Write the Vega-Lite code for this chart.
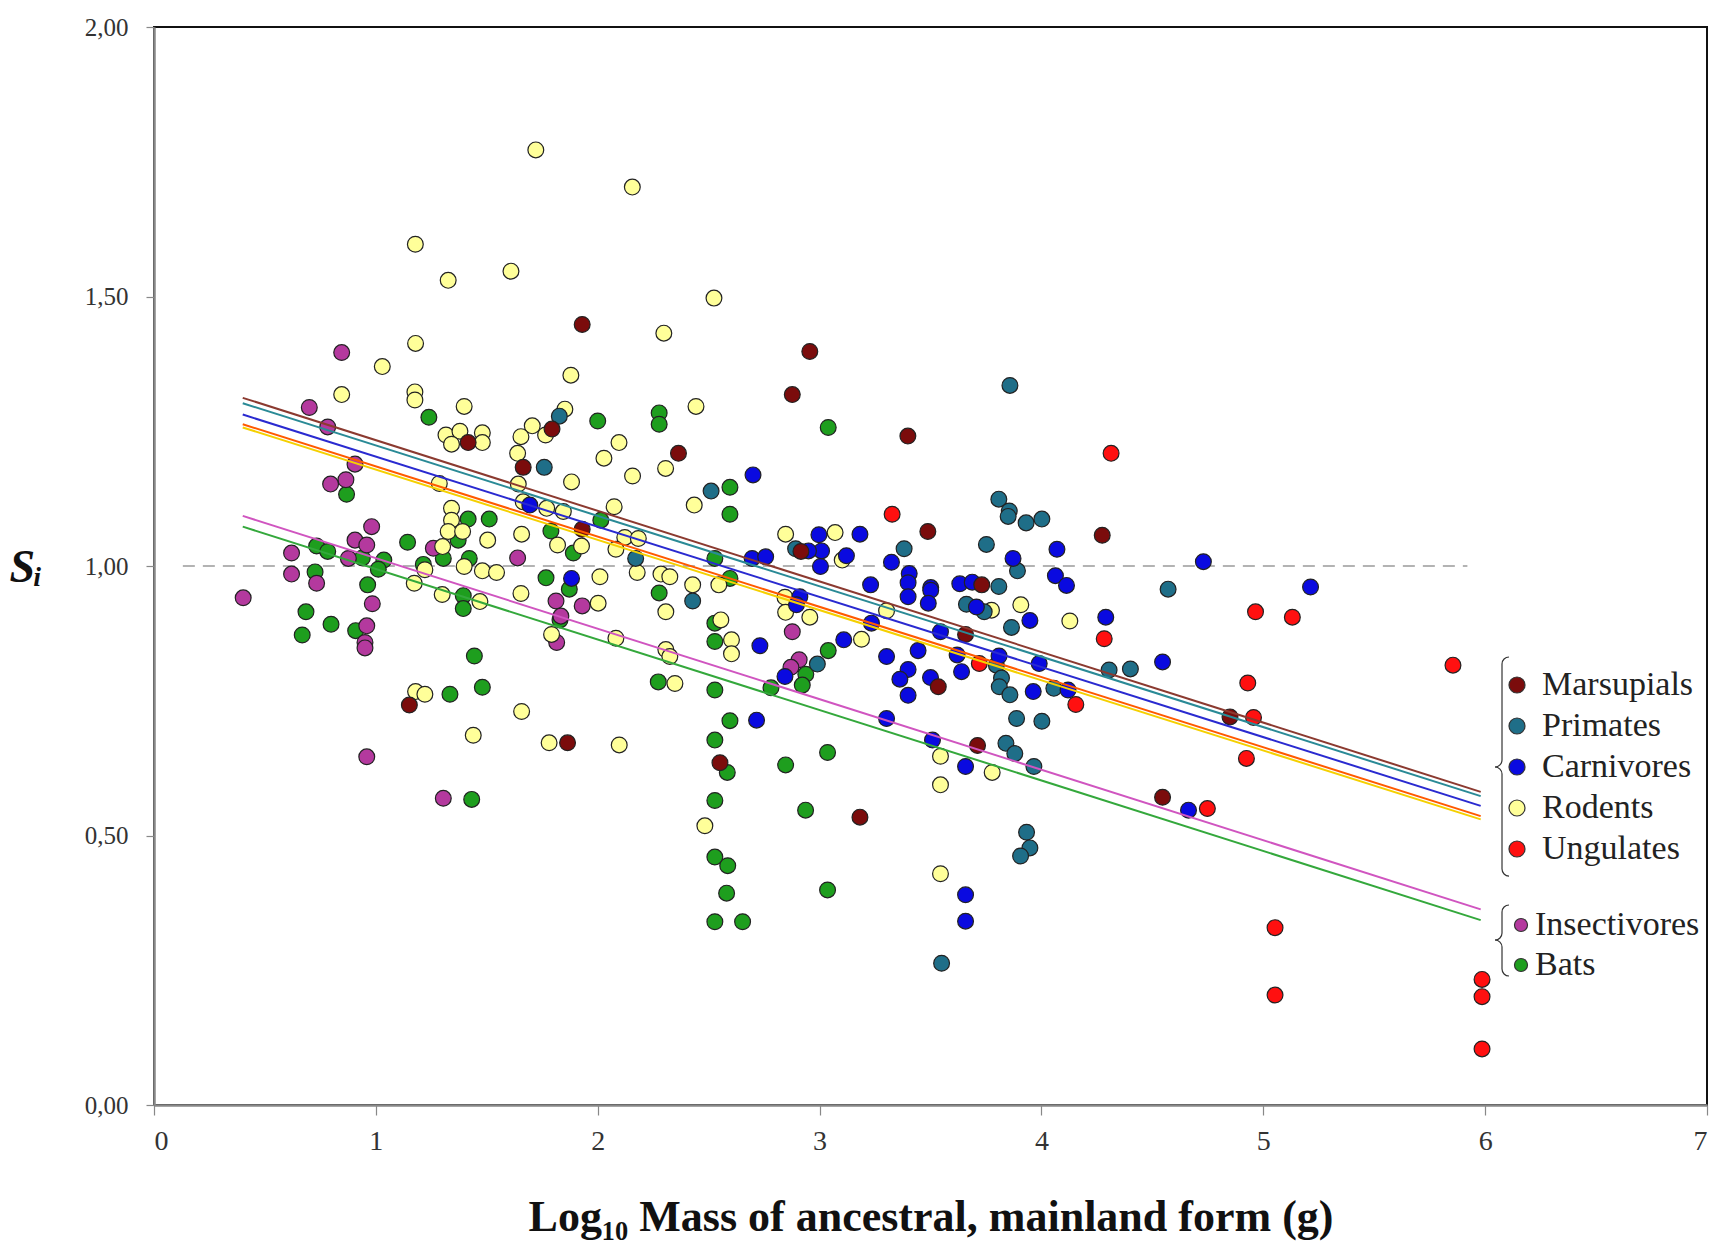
{
  "$schema": "https://vega.github.io/schema/vega-lite/v6.json",
  "width": 1553,
  "height": 1078,
  "autosize": {"type": "none"},
  "padding": {"left": 154, "top": 27, "right": 22, "bottom": 148},
  "background": "white",
  "config": {"view": {"stroke": "#111", "strokeWidth": 2}, "font": "Liberation Serif"},
  "datasets": {
    "lines": [
      {"grp": "Rodents", "mass": 0.4, "si": 1.257}, {"grp": "Rodents", "mass": 5.98, "si": 0.530},
      {"grp": "Ungulates", "mass": 0.4, "si": 1.263}, {"grp": "Ungulates", "mass": 5.98, "si": 0.536},
      {"grp": "Carnivores", "mass": 0.4, "si": 1.281}, {"grp": "Carnivores", "mass": 5.98, "si": 0.555},
      {"grp": "Primates", "mass": 0.4, "si": 1.302}, {"grp": "Primates", "mass": 5.98, "si": 0.573},
      {"grp": "Marsupials", "mass": 0.4, "si": 1.312}, {"grp": "Marsupials", "mass": 5.98, "si": 0.581},
      {"grp": "Insectivores", "mass": 0.4, "si": 1.093}, {"grp": "Insectivores", "mass": 5.98, "si": 0.363},
      {"grp": "Bats", "mass": 0.4, "si": 1.073}, {"grp": "Bats", "mass": 5.98, "si": 0.343}
    ],
    "points": [
      {"taxon": "Bats", "mass": 1.239, "si": 1.276}, {"taxon": "Bats", "mass": 2.0, "si": 1.269}, {"taxon": "Bats", "mass": 0.868, "si": 1.133}, {"taxon": "Bats", "mass": 0.733, "si": 1.037}, {"taxon": "Bats", "mass": 0.783, "si": 1.027}, {"taxon": "Bats", "mass": 0.939, "si": 1.015}, {"taxon": "Bats", "mass": 1.036, "si": 1.011}, {"taxon": "Bats", "mass": 1.011, "si": 0.994}, {"taxon": "Bats", "mass": 1.143, "si": 1.044}, {"taxon": "Bats", "mass": 0.726, "si": 0.989}, {"taxon": "Bats", "mass": 0.963, "si": 0.965}, {"taxon": "Bats", "mass": 1.214, "si": 1.003}, {"taxon": "Bats", "mass": 1.304, "si": 1.014}, {"taxon": "Bats", "mass": 1.416, "si": 1.087}, {"taxon": "Bats", "mass": 1.511, "si": 1.087}, {"taxon": "Bats", "mass": 1.371, "si": 1.048}, {"taxon": "Bats", "mass": 1.421, "si": 1.014}, {"taxon": "Bats", "mass": 1.394, "si": 0.945}, {"taxon": "Bats", "mass": 1.394, "si": 0.921}, {"taxon": "Bats", "mass": 0.685, "si": 0.915}, {"taxon": "Bats", "mass": 0.798, "si": 0.892}, {"taxon": "Bats", "mass": 0.668, "si": 0.872}, {"taxon": "Bats", "mass": 0.909, "si": 0.88}, {"taxon": "Bats", "mass": 1.444, "si": 0.833}, {"taxon": "Bats", "mass": 1.48, "si": 0.775}, {"taxon": "Bats", "mass": 1.334, "si": 0.762}, {"taxon": "Bats", "mass": 1.789, "si": 1.065}, {"taxon": "Bats", "mass": 1.767, "si": 0.978}, {"taxon": "Bats", "mass": 1.89, "si": 1.024}, {"taxon": "Bats", "mass": 1.872, "si": 0.957}, {"taxon": "Bats", "mass": 1.83, "si": 0.9}, {"taxon": "Bats", "mass": 2.014, "si": 1.085}, {"taxon": "Bats", "mass": 1.432, "si": 0.567}, {"taxon": "Bats", "mass": 2.277, "si": 1.284}, {"taxon": "Bats", "mass": 2.277, "si": 1.263}, {"taxon": "Bats", "mass": 3.039, "si": 1.257}, {"taxon": "Bats", "mass": 2.596, "si": 1.146}, {"taxon": "Bats", "mass": 2.596, "si": 1.096}, {"taxon": "Bats", "mass": 2.528, "si": 1.014}, {"taxon": "Bats", "mass": 2.596, "si": 0.977}, {"taxon": "Bats", "mass": 2.277, "si": 0.95}, {"taxon": "Bats", "mass": 2.528, "si": 0.894}, {"taxon": "Bats", "mass": 2.528, "si": 0.86}, {"taxon": "Bats", "mass": 2.273, "si": 0.785}, {"taxon": "Bats", "mass": 2.528, "si": 0.77}, {"taxon": "Bats", "mass": 2.596, "si": 0.713}, {"taxon": "Bats", "mass": 2.528, "si": 0.677}, {"taxon": "Bats", "mass": 2.584, "si": 0.617}, {"taxon": "Bats", "mass": 2.528, "si": 0.565}, {"taxon": "Bats", "mass": 2.528, "si": 0.46}, {"taxon": "Bats", "mass": 2.586, "si": 0.444}, {"taxon": "Bats", "mass": 2.581, "si": 0.393}, {"taxon": "Bats", "mass": 2.528, "si": 0.34}, {"taxon": "Bats", "mass": 2.653, "si": 0.34}, {"taxon": "Bats", "mass": 2.781, "si": 0.774}, {"taxon": "Bats", "mass": 2.938, "si": 0.799}, {"taxon": "Bats", "mass": 2.922, "si": 0.779}, {"taxon": "Bats", "mass": 3.039, "si": 0.843}, {"taxon": "Bats", "mass": 2.847, "si": 0.631}, {"taxon": "Bats", "mass": 3.036, "si": 0.654}, {"taxon": "Bats", "mass": 2.937, "si": 0.547}, {"taxon": "Bats", "mass": 3.036, "si": 0.399},
      {"taxon": "Insectivores", "mass": 0.846, "si": 1.396}, {"taxon": "Insectivores", "mass": 0.70, "si": 1.294}, {"taxon": "Insectivores", "mass": 0.783, "si": 1.258}, {"taxon": "Insectivores", "mass": 0.906, "si": 1.189}, {"taxon": "Insectivores", "mass": 0.865, "si": 1.16}, {"taxon": "Insectivores", "mass": 0.796, "si": 1.152}, {"taxon": "Insectivores", "mass": 0.981, "si": 1.073}, {"taxon": "Insectivores", "mass": 0.906, "si": 1.048}, {"taxon": "Insectivores", "mass": 0.959, "si": 1.039}, {"taxon": "Insectivores", "mass": 0.62, "si": 1.024}, {"taxon": "Insectivores", "mass": 0.876, "si": 1.014}, {"taxon": "Insectivores", "mass": 0.62, "si": 0.985}, {"taxon": "Insectivores", "mass": 0.733, "si": 0.968}, {"taxon": "Insectivores", "mass": 0.984, "si": 0.93}, {"taxon": "Insectivores", "mass": 0.402, "si": 0.941}, {"taxon": "Insectivores", "mass": 0.959, "si": 0.889}, {"taxon": "Insectivores", "mass": 0.951, "si": 0.858}, {"taxon": "Insectivores", "mass": 0.951, "si": 0.848}, {"taxon": "Insectivores", "mass": 1.259, "si": 1.033}, {"taxon": "Insectivores", "mass": 1.639, "si": 1.015}, {"taxon": "Insectivores", "mass": 1.812, "si": 0.935}, {"taxon": "Insectivores", "mass": 1.834, "si": 0.907}, {"taxon": "Insectivores", "mass": 1.815, "si": 0.858}, {"taxon": "Insectivores", "mass": 1.93, "si": 0.926}, {"taxon": "Insectivores", "mass": 0.959, "si": 0.646}, {"taxon": "Insectivores", "mass": 1.304, "si": 0.569}, {"taxon": "Insectivores", "mass": 2.877, "si": 0.878}, {"taxon": "Insectivores", "mass": 2.908, "si": 0.826}, {"taxon": "Insectivores", "mass": 2.871, "si": 0.812},
      {"taxon": "Rodents", "mass": 1.721, "si": 1.772}, {"taxon": "Rodents", "mass": 2.156, "si": 1.703}, {"taxon": "Rodents", "mass": 1.178, "si": 1.597}, {"taxon": "Rodents", "mass": 1.326, "si": 1.53}, {"taxon": "Rodents", "mass": 1.609, "si": 1.547}, {"taxon": "Rodents", "mass": 2.524, "si": 1.497}, {"taxon": "Rodents", "mass": 2.298, "si": 1.432}, {"taxon": "Rodents", "mass": 2.443, "si": 1.296}, {"taxon": "Rodents", "mass": 2.096, "si": 1.229}, {"taxon": "Rodents", "mass": 2.028, "si": 1.2}, {"taxon": "Rodents", "mass": 2.306, "si": 1.181}, {"taxon": "Rodents", "mass": 2.157, "si": 1.167}, {"taxon": "Rodents", "mass": 2.435, "si": 1.113}, {"taxon": "Rodents", "mass": 2.074, "si": 1.11}, {"taxon": "Rodents", "mass": 2.847, "si": 1.059}, {"taxon": "Rodents", "mass": 3.07, "si": 1.062}, {"taxon": "Rodents", "mass": 3.102, "si": 1.011}, {"taxon": "Rodents", "mass": 2.122, "si": 1.053}, {"taxon": "Rodents", "mass": 2.183, "si": 1.051}, {"taxon": "Rodents", "mass": 2.082, "si": 1.031}, {"taxon": "Rodents", "mass": 2.178, "si": 0.988}, {"taxon": "Rodents", "mass": 2.285, "si": 0.985}, {"taxon": "Rodents", "mass": 2.325, "si": 0.98}, {"taxon": "Rodents", "mass": 2.01, "si": 0.98}, {"taxon": "Rodents", "mass": 2.428, "si": 0.965}, {"taxon": "Rodents", "mass": 2.546, "si": 0.965},
      {"taxon": "Rodents", "mass": 1.179, "si": 1.413}, {"taxon": "Rodents", "mass": 1.029, "si": 1.37}, {"taxon": "Rodents", "mass": 0.846, "si": 1.318}, {"taxon": "Rodents", "mass": 1.176, "si": 1.323}, {"taxon": "Rodents", "mass": 1.176, "si": 1.308}, {"taxon": "Rodents", "mass": 1.398, "si": 1.296}, {"taxon": "Rodents", "mass": 1.879, "si": 1.354}, {"taxon": "Rodents", "mass": 1.852, "si": 1.291}, {"taxon": "Rodents", "mass": 1.316, "si": 1.243}, {"taxon": "Rodents", "mass": 1.379, "si": 1.25}, {"taxon": "Rodents", "mass": 1.48, "si": 1.247}, {"taxon": "Rodents", "mass": 1.341, "si": 1.226}, {"taxon": "Rodents", "mass": 1.48, "si": 1.229}, {"taxon": "Rodents", "mass": 1.705, "si": 1.26}, {"taxon": "Rodents", "mass": 1.654, "si": 1.24}, {"taxon": "Rodents", "mass": 1.765, "si": 1.243}, {"taxon": "Rodents", "mass": 1.639, "si": 1.209}, {"taxon": "Rodents", "mass": 1.882, "si": 1.156}, {"taxon": "Rodents", "mass": 1.286, "si": 1.153}, {"taxon": "Rodents", "mass": 1.642, "si": 1.152}, {"taxon": "Rodents", "mass": 1.664, "si": 1.119}, {"taxon": "Rodents", "mass": 1.77, "si": 1.107}, {"taxon": "Rodents", "mass": 1.845, "si": 1.101}, {"taxon": "Rodents", "mass": 1.341, "si": 1.107}, {"taxon": "Rodents", "mass": 1.341, "si": 1.085}, {"taxon": "Rodents", "mass": 1.326, "si": 1.064}, {"taxon": "Rodents", "mass": 1.391, "si": 1.064}, {"taxon": "Rodents", "mass": 1.504, "si": 1.048}, {"taxon": "Rodents", "mass": 1.657, "si": 1.059}, {"taxon": "Rodents", "mass": 1.819, "si": 1.039}, {"taxon": "Rodents", "mass": 1.927, "si": 1.037}, {"taxon": "Rodents", "mass": 1.301, "si": 1.036}, {"taxon": "Rodents", "mass": 1.398, "si": 0.999}, {"taxon": "Rodents", "mass": 1.48, "si": 0.991}, {"taxon": "Rodents", "mass": 1.544, "si": 0.988}, {"taxon": "Rodents", "mass": 1.221, "si": 0.993}, {"taxon": "Rodents", "mass": 1.173, "si": 0.968}, {"taxon": "Rodents", "mass": 1.654, "si": 0.949}, {"taxon": "Rodents", "mass": 1.299, "si": 0.947}, {"taxon": "Rodents", "mass": 1.469, "si": 0.934}, {"taxon": "Rodents", "mass": 2.002, "si": 0.931}, {"taxon": "Rodents", "mass": 1.792, "si": 0.873}, {"taxon": "Rodents", "mass": 2.082, "si": 0.866}, {"taxon": "Rodents", "mass": 1.657, "si": 0.73}, {"taxon": "Rodents", "mass": 1.179, "si": 0.767}, {"taxon": "Rodents", "mass": 1.221, "si": 0.762}, {"taxon": "Rodents", "mass": 1.439, "si": 0.686}, {"taxon": "Rodents", "mass": 1.781, "si": 0.672}, {"taxon": "Rodents", "mass": 2.097, "si": 0.668},
      {"taxon": "Rodents", "mass": 2.307, "si": 0.915}, {"taxon": "Rodents", "mass": 2.555, "si": 0.9}, {"taxon": "Rodents", "mass": 2.603, "si": 0.863}, {"taxon": "Rodents", "mass": 2.603, "si": 0.837}, {"taxon": "Rodents", "mass": 2.307, "si": 0.845}, {"taxon": "Rodents", "mass": 2.325, "si": 0.832}, {"taxon": "Rodents", "mass": 2.348, "si": 0.782}, {"taxon": "Rodents", "mass": 2.844, "si": 0.942}, {"taxon": "Rodents", "mass": 2.847, "si": 0.914}, {"taxon": "Rodents", "mass": 2.956, "si": 0.905}, {"taxon": "Rodents", "mass": 3.189, "si": 0.864}, {"taxon": "Rodents", "mass": 3.302, "si": 0.917}, {"taxon": "Rodents", "mass": 3.775, "si": 0.918}, {"taxon": "Rodents", "mass": 3.907, "si": 0.928}, {"taxon": "Rodents", "mass": 3.545, "si": 0.647}, {"taxon": "Rodents", "mass": 3.545, "si": 0.594}, {"taxon": "Rodents", "mass": 3.778, "si": 0.617}, {"taxon": "Rodents", "mass": 3.545, "si": 0.429}, {"taxon": "Rodents", "mass": 2.483, "si": 0.518}, {"taxon": "Rodents", "mass": 4.128, "si": 0.898},
      {"taxon": "Primates", "mass": 3.858, "si": 1.335}, {"taxon": "Primates", "mass": 2.511, "si": 1.139}, {"taxon": "Primates", "mass": 3.808, "si": 1.124}, {"taxon": "Primates", "mass": 3.855, "si": 1.102}, {"taxon": "Primates", "mass": 3.85, "si": 1.092}, {"taxon": "Primates", "mass": 3.931, "si": 1.08}, {"taxon": "Primates", "mass": 4.002, "si": 1.087}, {"taxon": "Primates", "mass": 3.752, "si": 1.04}, {"taxon": "Primates", "mass": 3.381, "si": 1.032}, {"taxon": "Primates", "mass": 2.171, "si": 1.014}, {"taxon": "Primates", "mass": 3.892, "si": 0.991}, {"taxon": "Primates", "mass": 3.808, "si": 0.962}, {"taxon": "Primates", "mass": 2.892, "si": 1.032}, {"taxon": "Primates", "mass": 1.827, "si": 1.278}, {"taxon": "Primates", "mass": 1.759, "si": 1.183}, {"taxon": "Primates", "mass": 2.428, "si": 0.935}, {"taxon": "Primates", "mass": 2.99, "si": 0.818}, {"taxon": "Primates", "mass": 3.662, "si": 0.929}, {"taxon": "Primates", "mass": 3.742, "si": 0.915}, {"taxon": "Primates", "mass": 3.865, "si": 0.886}, {"taxon": "Primates", "mass": 3.797, "si": 0.816}, {"taxon": "Primates", "mass": 3.82, "si": 0.792}, {"taxon": "Primates", "mass": 3.81, "si": 0.776}, {"taxon": "Primates", "mass": 3.858, "si": 0.761}, {"taxon": "Primates", "mass": 4.056, "si": 0.773}, {"taxon": "Primates", "mass": 3.888, "si": 0.717}, {"taxon": "Primates", "mass": 4.002, "si": 0.712}, {"taxon": "Primates", "mass": 3.84, "si": 0.671}, {"taxon": "Primates", "mass": 3.88, "si": 0.652}, {"taxon": "Primates", "mass": 3.966, "si": 0.628}, {"taxon": "Primates", "mass": 3.933, "si": 0.506}, {"taxon": "Primates", "mass": 3.948, "si": 0.477}, {"taxon": "Primates", "mass": 3.906, "si": 0.462}, {"taxon": "Primates", "mass": 3.55, "si": 0.263}, {"taxon": "Primates", "mass": 4.571, "si": 0.957}, {"taxon": "Primates", "mass": 4.305, "si": 0.807}, {"taxon": "Primates", "mass": 4.401, "si": 0.809},
      {"taxon": "Carnivores", "mass": 2.70, "si": 1.169}, {"taxon": "Carnivores", "mass": 2.997, "si": 1.058}, {"taxon": "Carnivores", "mass": 3.182, "si": 1.059}, {"taxon": "Carnivores", "mass": 3.009, "si": 1.028}, {"taxon": "Carnivores", "mass": 3.121, "si": 1.019}, {"taxon": "Carnivores", "mass": 3.004, "si": 0.999}, {"taxon": "Carnivores", "mass": 2.696, "si": 1.014}, {"taxon": "Carnivores", "mass": 2.757, "si": 1.017}, {"taxon": "Carnivores", "mass": 2.95, "si": 1.028}, {"taxon": "Carnivores", "mass": 3.324, "si": 1.007}, {"taxon": "Carnivores", "mass": 3.404, "si": 0.986}, {"taxon": "Carnivores", "mass": 3.399, "si": 0.969}, {"taxon": "Carnivores", "mass": 3.23, "si": 0.965}, {"taxon": "Carnivores", "mass": 3.501, "si": 0.96}, {"taxon": "Carnivores", "mass": 3.632, "si": 0.967}, {"taxon": "Carnivores", "mass": 3.688, "si": 0.97}, {"taxon": "Carnivores", "mass": 3.872, "si": 1.014}, {"taxon": "Carnivores", "mass": 4.07, "si": 1.031}, {"taxon": "Carnivores", "mass": 4.063, "si": 0.982}, {"taxon": "Carnivores", "mass": 3.399, "si": 0.943}, {"taxon": "Carnivores", "mass": 3.501, "si": 0.955}, {"taxon": "Carnivores", "mass": 3.49, "si": 0.931}, {"taxon": "Carnivores", "mass": 3.707, "si": 0.924}, {"taxon": "Carnivores", "mass": 3.948, "si": 0.899}, {"taxon": "Carnivores", "mass": 3.545, "si": 0.878}, {"taxon": "Carnivores", "mass": 2.911, "si": 0.943}, {"taxon": "Carnivores", "mass": 2.896, "si": 0.928}, {"taxon": "Carnivores", "mass": 2.731, "si": 0.852}, {"taxon": "Carnivores", "mass": 3.109, "si": 0.863}, {"taxon": "Carnivores", "mass": 3.234, "si": 0.894}, {"taxon": "Carnivores", "mass": 3.302, "si": 0.832}, {"taxon": "Carnivores", "mass": 3.444, "si": 0.843}, {"taxon": "Carnivores", "mass": 3.399, "si": 0.808}, {"taxon": "Carnivores", "mass": 3.362, "si": 0.79}, {"taxon": "Carnivores", "mass": 3.5, "si": 0.793}, {"taxon": "Carnivores", "mass": 3.399, "si": 0.76}, {"taxon": "Carnivores", "mass": 3.62, "si": 0.835}, {"taxon": "Carnivores", "mass": 3.64, "si": 0.804}, {"taxon": "Carnivores", "mass": 3.809, "si": 0.833}, {"taxon": "Carnivores", "mass": 3.99, "si": 0.819}, {"taxon": "Carnivores", "mass": 3.963, "si": 0.767}, {"taxon": "Carnivores", "mass": 2.844, "si": 0.795}, {"taxon": "Carnivores", "mass": 2.716, "si": 0.714}, {"taxon": "Carnivores", "mass": 3.302, "si": 0.717}, {"taxon": "Carnivores", "mass": 3.509, "si": 0.677}, {"taxon": "Carnivores", "mass": 3.658, "si": 0.628}, {"taxon": "Carnivores", "mass": 3.658, "si": 0.39}, {"taxon": "Carnivores", "mass": 3.658, "si": 0.341}, {"taxon": "Carnivores", "mass": 1.694, "si": 1.113}, {"taxon": "Carnivores", "mass": 1.882, "si": 0.977}, {"taxon": "Carnivores", "mass": 4.113, "si": 0.964}, {"taxon": "Carnivores", "mass": 4.73, "si": 1.008}, {"taxon": "Carnivores", "mass": 5.213, "si": 0.961}, {"taxon": "Carnivores", "mass": 4.29, "si": 0.905}, {"taxon": "Carnivores", "mass": 4.546, "si": 0.822}, {"taxon": "Carnivores", "mass": 4.12, "si": 0.77}, {"taxon": "Carnivores", "mass": 4.663, "si": 0.547},
      {"taxon": "Marsupials", "mass": 1.93, "si": 1.448}, {"taxon": "Marsupials", "mass": 2.956, "si": 1.398}, {"taxon": "Marsupials", "mass": 2.877, "si": 1.318}, {"taxon": "Marsupials", "mass": 3.398, "si": 1.241}, {"taxon": "Marsupials", "mass": 2.364, "si": 1.209}, {"taxon": "Marsupials", "mass": 1.794, "si": 1.254}, {"taxon": "Marsupials", "mass": 1.416, "si": 1.229}, {"taxon": "Marsupials", "mass": 1.664, "si": 1.183}, {"taxon": "Marsupials", "mass": 1.93, "si": 1.068}, {"taxon": "Marsupials", "mass": 3.488, "si": 1.064}, {"taxon": "Marsupials", "mass": 2.916, "si": 1.027}, {"taxon": "Marsupials", "mass": 3.731, "si": 0.965}, {"taxon": "Marsupials", "mass": 3.658, "si": 0.873}, {"taxon": "Marsupials", "mass": 3.535, "si": 0.776}, {"taxon": "Marsupials", "mass": 3.712, "si": 0.667}, {"taxon": "Marsupials", "mass": 2.551, "si": 0.635}, {"taxon": "Marsupials", "mass": 3.182, "si": 0.534}, {"taxon": "Marsupials", "mass": 1.151, "si": 0.742}, {"taxon": "Marsupials", "mass": 1.864, "si": 0.672}, {"taxon": "Marsupials", "mass": 4.274, "si": 1.057}, {"taxon": "Marsupials", "mass": 4.85, "si": 0.72}, {"taxon": "Marsupials", "mass": 4.546, "si": 0.571},
      {"taxon": "Ungulates", "mass": 3.327, "si": 1.096}, {"taxon": "Ungulates", "mass": 4.314, "si": 1.209}, {"taxon": "Ungulates", "mass": 3.72, "si": 0.819}, {"taxon": "Ungulates", "mass": 4.283, "si": 0.865}, {"taxon": "Ungulates", "mass": 4.155, "si": 0.743}, {"taxon": "Ungulates", "mass": 4.965, "si": 0.915}, {"taxon": "Ungulates", "mass": 5.131, "si": 0.905}, {"taxon": "Ungulates", "mass": 4.93, "si": 0.783}, {"taxon": "Ungulates", "mass": 4.956, "si": 0.719}, {"taxon": "Ungulates", "mass": 4.924, "si": 0.643}, {"taxon": "Ungulates", "mass": 4.748, "si": 0.55}, {"taxon": "Ungulates", "mass": 5.053, "si": 0.329}, {"taxon": "Ungulates", "mass": 5.053, "si": 0.204}, {"taxon": "Ungulates", "mass": 5.855, "si": 0.816}, {"taxon": "Ungulates", "mass": 5.986, "si": 0.233}, {"taxon": "Ungulates", "mass": 5.986, "si": 0.201}, {"taxon": "Ungulates", "mass": 5.986, "si": 0.104}
    ]
  },
  "layer": [
    {
      "data": {"values": [{}]},
      "mark": {"type": "rule", "strokeDash": [12, 8], "color": "#9a9a9a", "strokeWidth": 1.5},
      "encoding": {
        "x": {"datum": 0.13, "type": "quantitative", "scale": {"domain": [0, 7], "nice": false, "zero": false},
          "axis": {"title": "Log₁₀ Mass of ancestral, mainland form (g)", "values": [0, 1, 2, 3, 4, 5, 6, 7], "format": "d", "grid": false,
            "domainColor": "#888", "domainWidth": 2.5, "tickColor": "#888", "tickSize": 10, "tickWidth": 1.2,
            "labelFont": "Liberation Serif", "labelFontSize": 28, "labelColor": "#333", "labelPadding": 12,
            "titleFont": "Liberation Serif", "titleFontSize": 44, "titleFontWeight": "bold", "titleColor": "#111", "titlePadding": 40}},
        "x2": {"datum": 5.92},
        "y": {"datum": 1, "type": "quantitative", "scale": {"domain": [0, 2], "nice": false, "zero": false},
          "axis": {"title": "Sᵢ", "values": [0, 0.5, 1, 1.5, 2], "labelExpr": "replace(format(datum.value, '.2f'), '.', ',')", "grid": false,
            "domainColor": "#888", "domainWidth": 2.5, "tickColor": "#888", "tickSize": 8, "tickWidth": 1.2,
            "labelFont": "Liberation Serif", "labelFontSize": 25, "labelColor": "#333", "labelPadding": 18,
            "titleFont": "Liberation Serif", "titleFontSize": 46, "titleFontWeight": "bold", "titleFontStyle": "italic", "titleColor": "#111",
            "titleAngle": 0, "titleAlign": "left", "titleBaseline": "middle", "titleX": -145, "titleY": 540}}
      }
    },
    {
      "data": {"name": "points"},
      "transform": [{"filter": "datum.taxon === 'Bats' || datum.taxon === 'Insectivores'"}],
      "mark": {"type": "point", "filled": true, "shape": "circle", "size": 250, "stroke": "#222", "strokeWidth": 1.2, "opacity": 1},
      "encoding": {
        "x": {"field": "mass", "type": "quantitative"},
        "y": {"field": "si", "type": "quantitative"},
        "fill": {"field": "taxon", "type": "nominal",
          "scale": {"domain": ["Insectivores", "Bats"], "range": ["#b4399e", "#1e9e1e"]},
          "legend": {"orient": "none", "legendX": 1350, "legendY": 881, "title": null, "padding": 0,
            "labelFont": "Liberation Serif", "labelFontSize": 34, "labelColor": "#222", "labelOffset": -3, "labelLimit": 400,
            "symbolType": "circle", "symbolSize": 170, "symbolStrokeColor": "#333", "symbolStrokeWidth": 1.2, "rowPadding": 6,
            "encode": {"symbols": {"update": {"fill": [{"test": "datum.value === 'Insectivores'", "value": "#c8929c"}, {"value": "#1e9e50"}], "opacity": {"value": 1}}}}}}
      }
    },
    {
      "data": {"name": "points"},
      "transform": [{"filter": "datum.taxon !== 'Bats' && datum.taxon !== 'Insectivores'"}],
      "mark": {"type": "point", "filled": true, "shape": "circle", "size": 250, "stroke": "#222", "strokeWidth": 1.2, "opacity": 1},
      "encoding": {
        "x": {"field": "mass", "type": "quantitative"},
        "y": {"field": "si", "type": "quantitative"},
        "fill": {"field": "taxon", "type": "nominal",
          "scale": {"domain": ["Marsupials", "Primates", "Carnivores", "Rodents", "Ungulates"], "range": ["#7b0c0c", "#1f6e88", "#0a0ae0", "#ffff99", "#ff1010"]},
          "legend": {"orient": "none", "legendX": 1346, "legendY": 641, "title": null, "padding": 0,
            "labelFont": "Liberation Serif", "labelFontSize": 34, "labelColor": "#222", "labelOffset": 8, "labelLimit": 400,
            "symbolType": "circle", "symbolSize": 256, "symbolStrokeColor": "#333", "symbolStrokeWidth": 1.2, "rowPadding": 7,
            "encode": {"symbols": {"update": {"opacity": {"value": 1}}}}}}
      }
    },
    {
      "data": {"name": "lines"},
      "mark": {"type": "line", "strokeWidth": 2},
      "encoding": {
        "x": {"field": "mass", "type": "quantitative"},
        "y": {"field": "si", "type": "quantitative"},
        "stroke": {"field": "grp", "type": "nominal",
          "scale": {"domain": ["Rodents", "Ungulates", "Carnivores", "Primates", "Marsupials", "Insectivores", "Bats"],
            "range": ["#f5d000", "#ff5a00", "#2a2ad0", "#2a8a96", "#8b3a30", "#d055c0", "#34a83c"]},
          "legend": null},
        "order": {"value": 0}
      }
    },
    {"data": {"values": [{}]}, "mark": {"type": "arc", "innerRadius": 6.4, "outerRadius": 7.6, "theta": 4.712, "theta2": 6.2832, "color": "#333"}, "encoding": {"x": {"datum": 6.1076}, "y": {"datum": 0.8182}}},
    {"data": {"values": [{}]}, "mark": {"type": "rule", "color": "#333", "strokeWidth": 1.2}, "encoding": {"x": {"datum": 6.076}, "y": {"datum": 0.8182}, "y2": {"datum": 0.6401}}},
    {"data": {"values": [{}]}, "mark": {"type": "arc", "innerRadius": 6.4, "outerRadius": 7.6, "theta": 1.5708, "theta2": 3.1416, "color": "#333"}, "encoding": {"x": {"datum": 6.0445}, "y": {"datum": 0.6401}}},
    {"data": {"values": [{}]}, "mark": {"type": "arc", "innerRadius": 6.4, "outerRadius": 7.6, "theta": 0, "theta2": 1.5708, "color": "#333"}, "encoding": {"x": {"datum": 6.0445}, "y": {"datum": 0.6141}}},
    {"data": {"values": [{}]}, "mark": {"type": "rule", "color": "#333", "strokeWidth": 1.2}, "encoding": {"x": {"datum": 6.076}, "y": {"datum": 0.6141}, "y2": {"datum": 0.4378}}},
    {"data": {"values": [{}]}, "mark": {"type": "arc", "innerRadius": 6.4, "outerRadius": 7.6, "theta": 3.1416, "theta2": 4.712, "color": "#333"}, "encoding": {"x": {"datum": 6.1076}, "y": {"datum": 0.4378}}},
    {"data": {"values": [{}]}, "mark": {"type": "arc", "innerRadius": 6.4, "outerRadius": 7.6, "theta": 4.712, "theta2": 6.2832, "color": "#333"}, "encoding": {"x": {"datum": 6.1076}, "y": {"datum": 0.3581}}},
    {"data": {"values": [{}]}, "mark": {"type": "rule", "color": "#333", "strokeWidth": 1.2}, "encoding": {"x": {"datum": 6.076}, "y": {"datum": 0.3581}, "y2": {"datum": 0.3191}}},
    {"data": {"values": [{}]}, "mark": {"type": "arc", "innerRadius": 6.4, "outerRadius": 7.6, "theta": 1.5708, "theta2": 3.1416, "color": "#333"}, "encoding": {"x": {"datum": 6.0445}, "y": {"datum": 0.3191}}},
    {"data": {"values": [{}]}, "mark": {"type": "arc", "innerRadius": 6.4, "outerRadius": 7.6, "theta": 0, "theta2": 1.5708, "color": "#333"}, "encoding": {"x": {"datum": 6.0445}, "y": {"datum": 0.2931}}},
    {"data": {"values": [{}]}, "mark": {"type": "rule", "color": "#333", "strokeWidth": 1.2}, "encoding": {"x": {"datum": 6.076}, "y": {"datum": 0.2931}, "y2": {"datum": 0.2523}}},
    {"data": {"values": [{}]}, "mark": {"type": "arc", "innerRadius": 6.4, "outerRadius": 7.6, "theta": 3.1416, "theta2": 4.712, "color": "#333"}, "encoding": {"x": {"datum": 6.1076}, "y": {"datum": 0.2523}}}
  ],
  "resolve": {"scale": {"fill": "independent"}}
}
